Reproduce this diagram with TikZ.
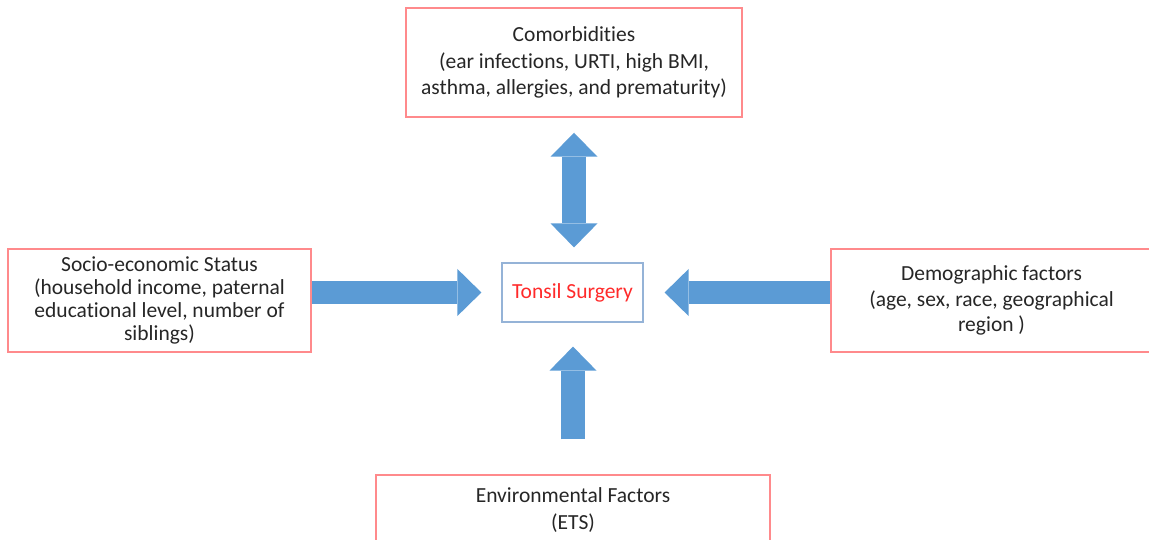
\documentclass[tikz,border=0pt]{standalone}
\usepackage{fontspec}
\setmainfont{Carlito}[Ligatures=NoCommon]
\usetikzlibrary{arrows.meta}
\definecolor{boxred}{HTML}{FF8A8C}
\definecolor{arrowblue}{HTML}{5B9BD5}
\definecolor{coreblue}{HTML}{95B3D7}
\definecolor{txtgrey}{HTML}{262626}
\definecolor{corered}{HTML}{FF2A2A}
\tikzset{
    bigtip/.tip={Triangle[width=47pt,length=24pt,line width=0pt]},
    factor/.style={draw=boxred,line width=1.5pt,text=txtgrey,align=center,inner sep=0pt,font=\fontsize{21.5}{26.5}\selectfont},
    core/.style={draw=coreblue,line width=1.2pt,text=corered,minimum width=141pt,minimum height=59pt,inner sep=0pt,font=\fontsize{21.5}{26.5}\selectfont},
    flow/.style={arrowblue,line width=23.5pt,-bigtip},
    twoway/.style={arrowblue,line width=23.5pt,bigtip-bigtip}
}
\begin{document}
\begin{tikzpicture}[x=1pt,y=-1pt]
    \useasboundingbox (0,0) rectangle (1149,540);
    \clip (0,0) rectangle (1149,540);
    % factors round the centre
    \node[factor,minimum width=336pt,minimum height=109pt] (comorb) at (574,62.5) {Comorbidities\\(ear infections, URTI, high BMI,\\asthma, allergies, and prematurity)};
    \node[factor,minimum width=303pt,minimum height=103pt,font=\fontsize{21.5}{22.7}\selectfont] (ses) at (159.5,300.5) {Socio-economic Status\\(household income, paternal\\educational level, number of\\siblings)};
    \node[factor,minimum width=321pt,minimum height=103pt,font=\fontsize{21.5}{25.5}\selectfont] (demo) at (991.5,300.5) {Demographic factors\\(age, sex, race, geographical\\region )};
    \node[factor,minimum width=394pt,minimum height=70pt] (env) at (573,510) {Environmental Factors\\(ETS)};
    \node[core] (tonsil) at (572.5,292.5) {Tonsil Surgery};
    % block arrows
    \draw[twoway,shorten <=15pt,shorten >=15pt] (comorb.south) -- (comorb.south |- tonsil.north);
    \draw[flow,shorten >=20pt] (ses.east |- tonsil.west) -- (tonsil.west);
    \draw[flow,shorten >=21pt] (demo.west |- tonsil.east) -- (tonsil.east);
    \draw[flow,shorten <=35pt,shorten >=24pt] (env.north) -- (env.north |- tonsil.south);
\end{tikzpicture}
\end{document}
